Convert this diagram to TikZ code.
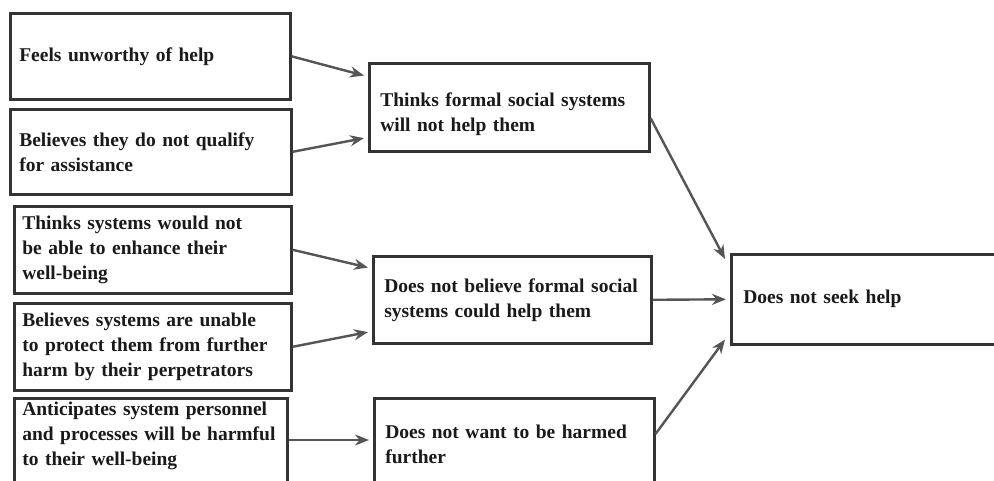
\documentclass[tikz,border=0pt]{standalone}
\usepackage{fontspec}
\setmainfont{Liberation Serif}
\usetikzlibrary{arrows.meta,calc}
\definecolor{boxc}{HTML}{333333}
\definecolor{arrc}{HTML}{555555}
\definecolor{txtc}{HTML}{1A1A1A}
\begin{document}
\begin{tikzpicture}[x=1pt,y=-1pt,
  box/.style={draw=boxc, line width=2.6pt, anchor=north west, inner xsep=9pt, inner ysep=0pt,
    align=left, font=\fontsize{19.5}{25}\selectfont\bfseries, text=txtc,
    execute at begin node={\hyphenpenalty=10000\exhyphenpenalty=10000}},
  conn/.style={draw=arrc, line width=2.4pt, -{Stealth[length=14pt,width=11pt]}}
]
\useasboundingbox (0,0) rectangle (994,481);
\clip (0,0) rectangle (994,481);
\fill[white] (0,0) rectangle (994,481);

% left column
\node[box, minimum width=280pt, minimum height=86pt, text width=262pt] (L1) at (9,12) {Feels unworthy of help};
\node[box, minimum width=281pt, minimum height=85pt, text width=263pt] (L2) at (9,108) {Believes they do not qualify\\for assistance};
\node[box, minimum width=277pt, minimum height=87pt, text width=261pt, inner xsep=8pt] (L3) at (13,205) {Thinks systems would not\\be able to enhance their\\well-being};
\node[box, minimum width=277pt, minimum height=87pt, text width=261pt, inner xsep=8pt] (L4) at (13,302) {Believes systems are unable\\to protect them from further\\harm by their perpetrators};
\node[box, minimum width=273pt, text width=257pt, inner xsep=8pt, inner ysep=4pt] (L5) at (13,397)
  {\begin{minipage}[t][90pt][t]{257pt}Anticipates system personnel\\and processes will be harmful\\to their well-being\end{minipage}};

% middle column
\node[box, minimum width=280pt, minimum height=88pt, text width=258pt, inner xsep=11pt] (M1) at (368,62) {\rule{0pt}{28pt}Thinks formal social systems\\will not help them};
\node[box, minimum width=278pt, minimum height=87pt, text width=256pt, inner xsep=11pt] (M2) at (372,255) {Does not believe formal social\\systems could help them};
\node[box, minimum width=280pt, minimum height=92pt, text width=258pt, inner xsep=11pt] (M3) at (373,397) {Does not want to be harmed\\further};

% right
\node[box, minimum width=280pt, minimum height=90pt, text width=256pt, inner xsep=12pt] (R) at (730,253) {Does not seek help};

% connectors
\draw[conn] (L1.east) -- ($(M1.north west)!0.15!(M1.south west)+(-4,0)$);
\draw[conn] (L2.east) -- ($(M1.north west)!0.84!(M1.south west)+(-4,0)$);
\draw[conn] (L3.east) -- ($(M2.north west)!0.14!(M2.south west)+(-4,0)$);
\draw[conn] (L4.east) -- ($(M2.north west)!0.86!(M2.south west)+(-4,0)$);
\draw[conn] ($(L5.north east)+(0,43)$) -- ($(M3.north west)+(-4,43)$);
\draw[conn] ($(M1.north east)!0.62!(M1.south east)$) -- ($(R.north west)+(-5,6)$);
\draw[conn] (M2.east) -- ($(R.west)+(-4,0)$);
\draw[conn] ($(M3.north east)!0.39!(M3.south east)$) -- ($(R.south west)+(-5,-6)$);
\end{tikzpicture}
\end{document}
